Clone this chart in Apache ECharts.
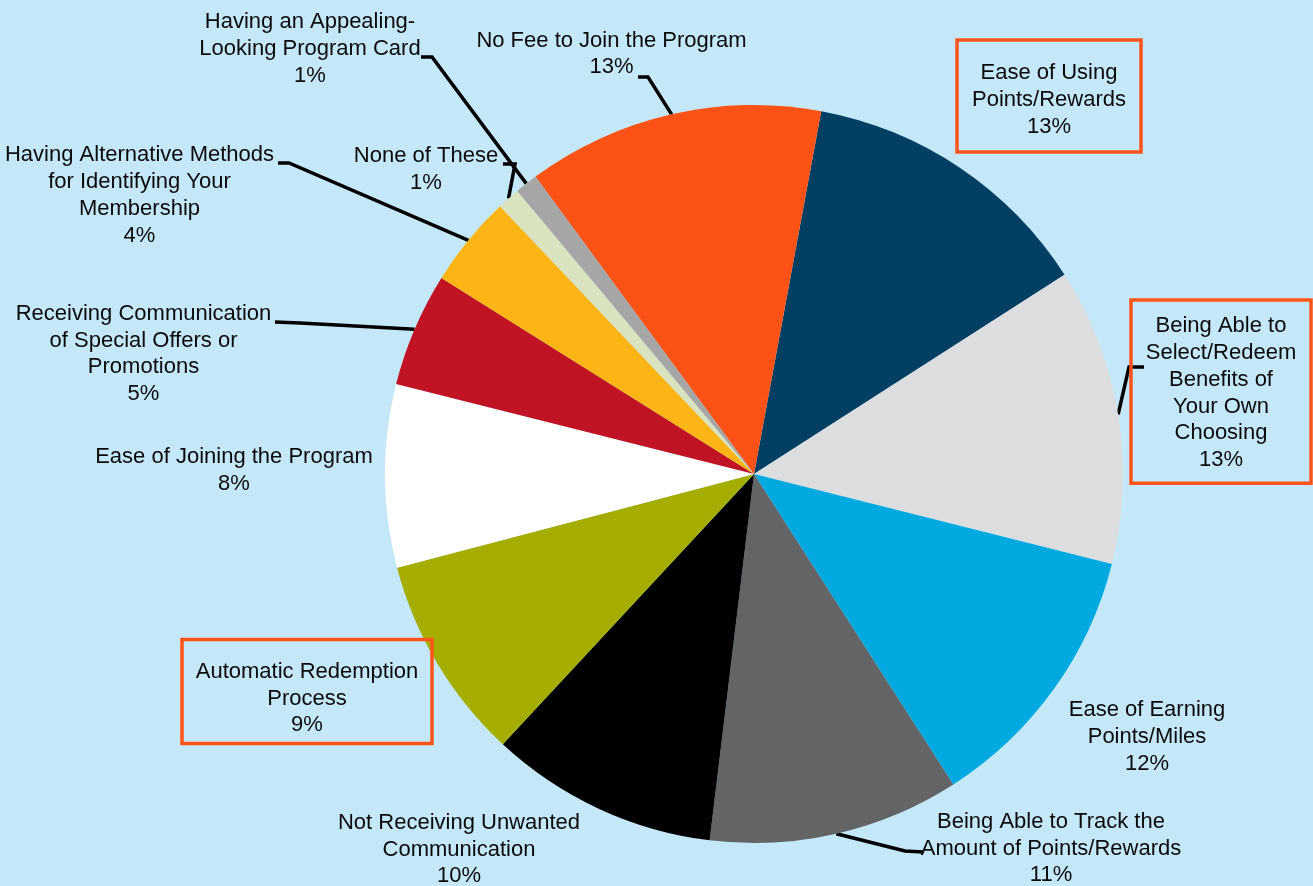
<!DOCTYPE html>
<html>
<head>
<meta charset="utf-8">
<script src="https://cdn.jsdelivr.net/npm/echarts@6/dist/echarts.min.js"></script>
<style>
  html, body { margin: 0; padding: 0; background: #C5E8F8; }
  #chart { width: 1313px; height: 886px; }
</style>
</head>
<body>
<div id="chart"></div>
<script>
// ---- data ----
const categories = [
  'Ease of Using\nPoints/Rewards',
  'Being Able to\nSelect/Redeem\nBenefits of\nYour Own\nChoosing',
  'Ease of Earning\nPoints/Miles',
  'Being Able to Track the\nAmount of Points/Rewards',
  'Not Receiving Unwanted\nCommunication',
  'Automatic Redemption\nProcess',
  'Ease of Joining the Program',
  'Receiving Communication\nof Special Offers or\nPromotions',
  'Having Alternative Methods\nfor Identifying Your\nMembership',
  'None of These',
  'Having an Appealing-\nLooking Program Card',
  'No Fee to Join the Program'
];
const values = [13, 13, 12, 11, 10, 9, 8, 5, 4, 1, 1, 13];

// ---- styles / layout (not data) ----
const colors = ['#023F62', '#DCDDDF', '#00A9E0', '#636466', '#000000', '#A4AD00',
                '#FFFFFF', '#C01424', '#FDB515', '#D9E3C0', '#A6A6A6', '#FC5216'];
// label anchor: [center x, top y]
const labelPos = [
  [1049, 40], [1221, 300], [1147, 697], [1051, 808.5], [459, 809.5], [307, 639.5],
  [234, 443.5], [143.5, 300.5], [139.5, 142], [426, 143], [310, 9], [611.5, 27.3]
];
// leader line bend + end points (start is taken from the slice edge)
const leaders = {
  1: [[1129, 367], [1144, 367]],
  3: [[905, 851], [923, 852]],
  7: [[300, 323], [275, 322]],
  8: [[289, 163], [278, 163]],
  9: [[515, 164], [503, 164]],
  10: [[432, 57], [421, 57]],
  11: [[648, 77], [638, 77]]
};
const boxes = {
  0: { width: 184, padding: [20, 0, 12, 0] },
  1: { width: 180, padding: [13, 0, 10, 0] },
  5: { width: 250, padding: [19, 0, 5, 0] }
};
const boxBorder = '#FE5419';
const leaderStyle = { color: '#000000', width: 3.5 };

const seriesData = categories.map(function (name, i) {
  const item = {
    name: name,
    value: values[i],
    itemStyle: { color: colors[i] },
    labelLine: { show: !!leaders[i], lineStyle: leaderStyle }
  };
  if (boxes[i]) {
    item.label = {
      width: boxes[i].width,
      padding: boxes[i].padding,
      borderColor: boxBorder,
      borderWidth: 3.5
    };
  }
  return item;
});

const chart = echarts.init(document.getElementById('chart'), null, { renderer: 'canvas' });
chart.setOption({
  backgroundColor: '#C5E8F8',
  animation: false,
  series: [{
    type: 'pie',
    center: [754, 474],
    radius: 369,
    startAngle: 79.5,
    clockwise: true,
    avoidLabelOverlap: false,
    data: seriesData,
    itemStyle: { borderWidth: 0 },
    emphasis: { disabled: true },
    label: {
      show: true,
      position: 'outside',
      formatter: '{b}\n{c}%',
      color: '#0a0a0a',
      fontFamily: '"Liberation Sans", Arial, sans-serif',
      fontSize: 22,
      lineHeight: 26.7,
      align: 'center',
      width: 330,
      overflow: 'none'
    },
    labelLine: {
      show: true,
      smooth: false,
      length: 20,
      length2: 10,
      lineStyle: leaderStyle
    },
    labelLayout: function (p) {
      const i = p.dataIndex;
      const res = {
        x: labelPos[i][0],
        y: labelPos[i][1],
        align: 'center',
        verticalAlign: 'top'
      };
      if (leaders[i] && p.labelLinePoints) {
        res.labelLinePoints = [p.labelLinePoints[0], leaders[i][0], leaders[i][1]];
      }
      return res;
    }
  }]
});
</script>
</body>
</html>
